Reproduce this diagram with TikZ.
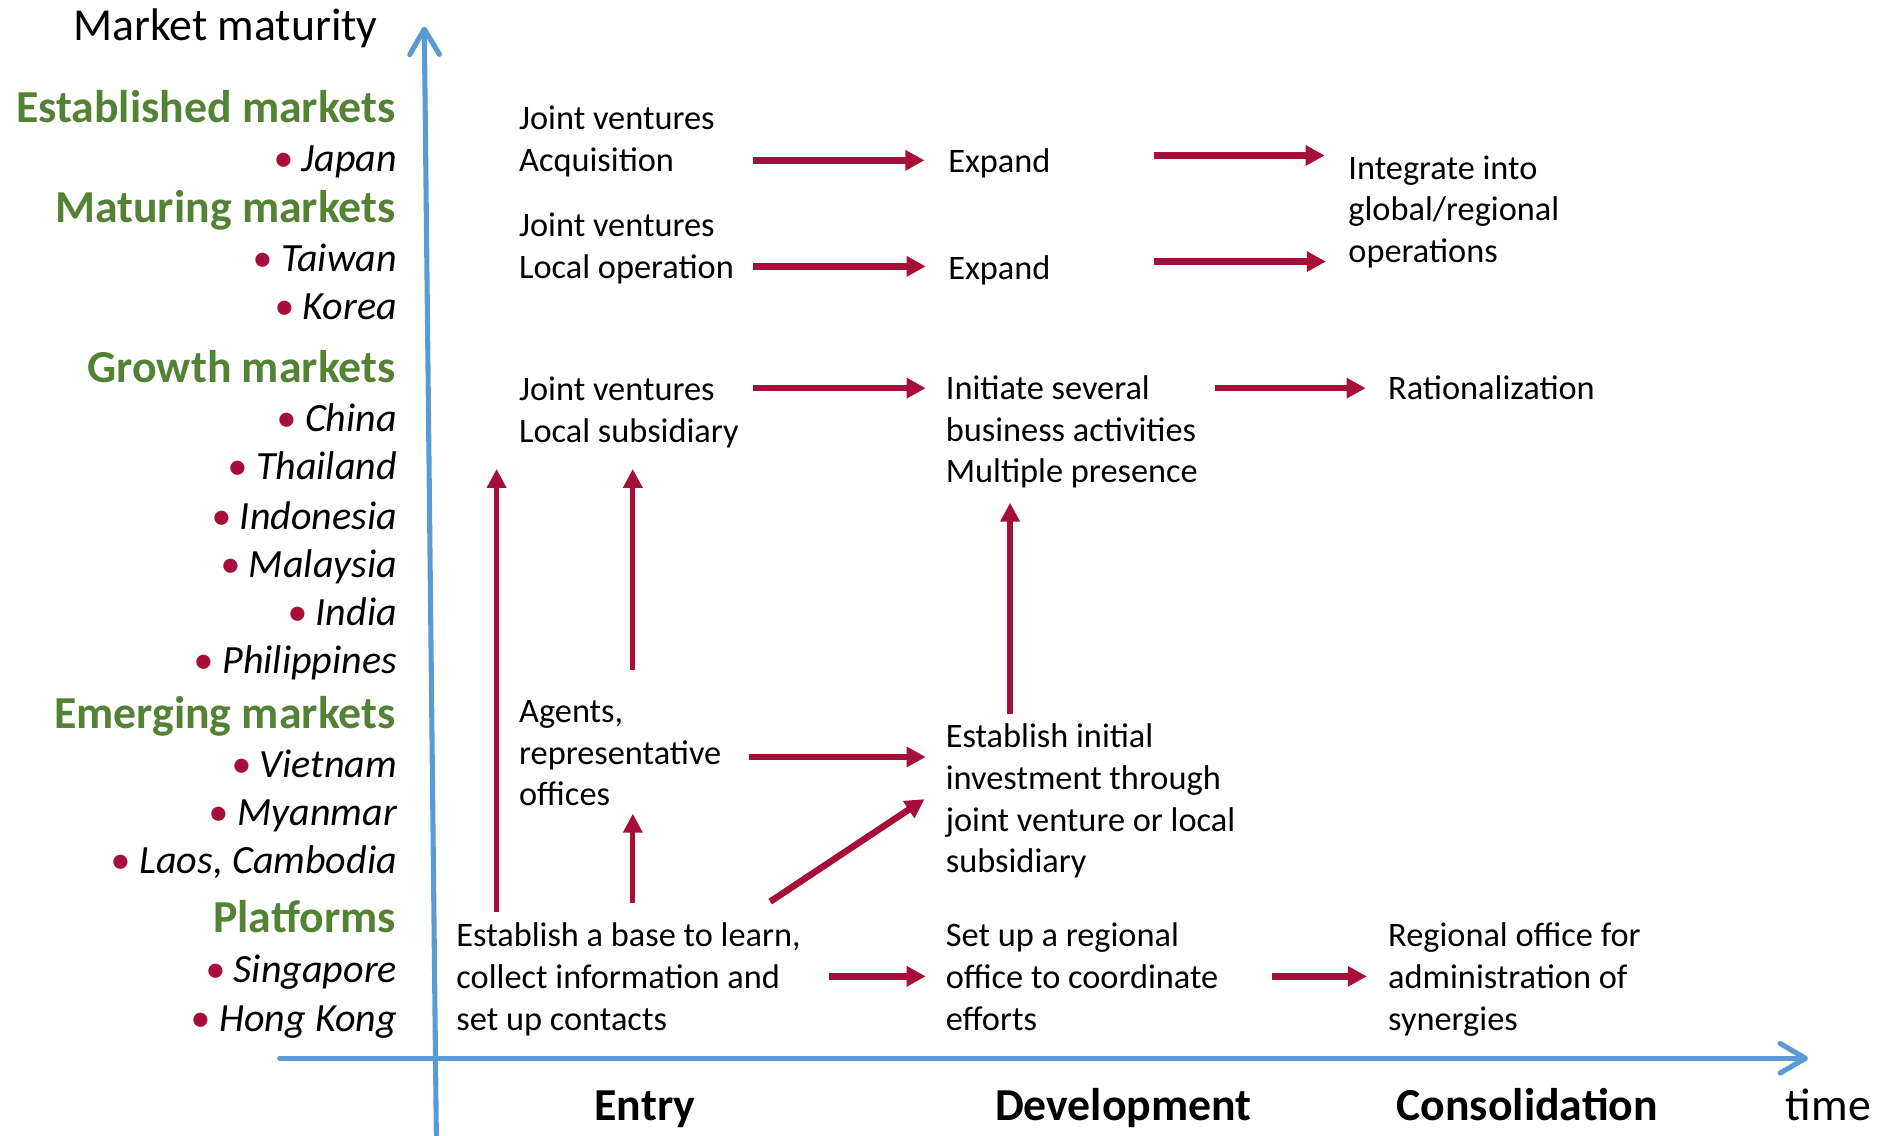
\documentclass[tikz,border=0pt]{standalone}
\usepackage{fontspec}
\setmainfont{Carlito}
\usetikzlibrary{arrows.meta}

\definecolor{leaf}{HTML}{548235}
\definecolor{wine}{HTML}{A50F38}
\definecolor{sky}{HTML}{5B9BD5}

% multi-line text block whose baseline is that of its first line
\newcommand{\stack}[1]{\begin{tabular}[t]{@{}l@{}}#1\end{tabular}}
% country entry with a red bullet
\newcommand{\dotitem}[1]{{\color{wine}\textbullet}\hspace{0.22em}#1}

\begin{document}
\begin{tikzpicture}[x=0.01cm, y=-0.01cm,
  body/.style={inner sep=0pt, anchor=base west, font=\fontsize{8.1}{9.82}\selectfont},
  grp/.style={inner sep=0pt, anchor=base east, text=leaf, font=\fontsize{10.8}{12}\selectfont\bfseries},
  land/.style={inner sep=0pt, anchor=base east, font=\fontsize{9.45}{11}\selectfont\itshape},
  phase/.style={inner sep=0pt, anchor=base, font=\fontsize{10.8}{12}\selectfont\bfseries},
  axis/.style={draw=sky, line width=1.2pt, line cap=round,
    -{Straight Barb[length=6pt, width=7pt, line cap=round, line join=round]}},
  harr/.style={draw=wine, line width=1.55pt, -{Triangle[length=4.5pt, width=4.6pt]}},
  varr/.style={draw=wine, line width=1.25pt, -{Triangle[length=4.5pt, width=4.4pt]}}]

\useasboundingbox (0,0) rectangle (1568,942);

% ---- axes ----
\coordinate (yfoot) at (362,942);
\coordinate (ytip) at (352,22);
\coordinate (xfoot) at (232,878);
\coordinate (xtip) at (1500,878);
\draw[axis] (yfoot) -- (ytip);
\draw[axis] (xfoot) -- (xtip);

% ---- market maturity scale ----
\node[inner sep=0pt, anchor=base east, font=\fontsize{10.8}{12}\selectfont] (mm) at (314,34) {Market maturity};

\node[grp] (est) at (329,102) {Established markets};
\node[land] (jp) at (330,142) {\dotitem{Japan}};
\node[grp] (mat) at (329,185) {Maturing markets};
\node[land] (tw) at (330,225) {\dotitem{Taiwan}};
\node[land] (kr) at (330,265) {\dotitem{Korea}};
\node[grp] (gro) at (329,317) {Growth markets};
\node[land] (cn) at (330,358) {\dotitem{China}};
\node[land] (th) at (330,398) {\dotitem{Thailand}};
\node[land] (id) at (330,439) {\dotitem{Indonesia}};
\node[land] (my) at (330,479) {\dotitem{Malaysia}};
\node[land] (in) at (330,519) {\dotitem{India}};
\node[land] (ph) at (330,559) {\dotitem{Philippines}};
\node[grp] (emg) at (329,604) {Emerging markets};
\node[land] (vn) at (330,645) {\dotitem{Vietnam}};
\node[land] (mm2) at (330,685) {\dotitem{Myanmar}};
\node[land] (lc) at (330,725) {\dotitem{Laos, Cambodia}};
\node[grp] (plf) at (329,774) {Platforms};
\node[land] (sg) at (330,815) {\dotitem{Singapore}};
\node[land] (hk) at (330,856) {\dotitem{Hong Kong}};

% ---- phases on the time axis ----
\node[phase] (entry) at (535,930) {Entry};
\node[phase] (dev) at (932,930) {Development};
\node[phase] (cons) at (1267,930) {Consolidation};
\node[inner sep=0pt, anchor=base west, font=\fontsize{10.8}{12}\selectfont] (time) at (1481,930) {time};

% ---- strategy steps ----
\node[body] (jvacq) at (430,107.5) {\stack{Joint ventures\\Acquisition}};
\node[body] (exp1) at (786,143.5) {Expand};
\node[body] (integ) at (1118,148.5) {\stack{Integrate into\\global/regional\\operations}};
\node[body] (jvop) at (430,196.5) {\stack{Joint ventures\\Local operation}};
\node[body] (exp2) at (786,231.5) {Expand};
\node[body] (jvsub) at (430,332.5) {\stack{Joint ventures\\Local subsidiary}};
\node[body] (init) at (784,331.5) {\stack{Initiate several\\business activities\\Multiple presence}};
\node[body] (ratio) at (1151,331.5) {Rationalization};
\node[body] (agents) at (430,599.5) {\stack{Agents,\\representative\\offices}};
\node[body] (invest) at (784,620.5) {\stack{Establish initial\\investment through\\joint venture or local\\subsidiary}};
\node[body] (base) at (378,785.5) {\stack{Establish a base to learn,\\collect information and\\set up contacts}};
\node[body] (regoff) at (784,785.5) {\stack{Set up a regional\\office to coordinate\\efforts}};
\node[body] (admin) at (1151,785.5) {\stack{Regional office for\\administration of\\synergies}};

% ---- arrow end points ----
\coordinate (acqR) at (625,133);  \coordinate (exp1L) at (767,133);
\coordinate (exp1R) at (957,129); \coordinate (integL1) at (1099,129);
\coordinate (opR) at (625,221);   \coordinate (exp2L) at (768,221);
\coordinate (exp2R) at (957,217); \coordinate (integL2) at (1100,217);
\coordinate (subR) at (625,322);  \coordinate (initL) at (768,322);
\coordinate (initR) at (1008,322); \coordinate (ratioL) at (1133,322);
\coordinate (agentsR) at (621,628); \coordinate (investL) at (768,628);
\coordinate (baseR) at (688,810); \coordinate (regoffL) at (768,810);
\coordinate (regoffR) at (1055,810); \coordinate (adminL) at (1134,810);
\coordinate (baseD) at (639,748); \coordinate (investD) at (767,663);
\coordinate (baseT1) at (412,757); \coordinate (subB1) at (412,389);
\coordinate (agentsT) at (525,556); \coordinate (subB2) at (525,389);
\coordinate (investT) at (838,592); \coordinate (initB) at (838,417);
\coordinate (baseT2) at (525,749); \coordinate (agentsB) at (525,675);

% ---- horizontal progressions ----
\draw[harr] (acqR) -- (exp1L);
\draw[harr] (exp1R) -- (integL1);
\draw[harr] (opR) -- (exp2L);
\draw[harr] (exp2R) -- (integL2);
\draw[harr] (subR) -- (initL);
\draw[harr] (initR) -- (ratioL);
\draw[harr] (agentsR) -- (investL);
\draw[harr] (baseR) -- (regoffL);
\draw[harr] (regoffR) -- (adminL);
\draw[harr] (baseD) -- (investD);

% ---- upward progressions ----
\draw[varr] (baseT1) -- (subB1);
\draw[varr] (agentsT) -- (subB2);
\draw[varr] (investT) -- (initB);
\draw[varr] (baseT2) -- (agentsB);

\end{tikzpicture}
\end{document}
